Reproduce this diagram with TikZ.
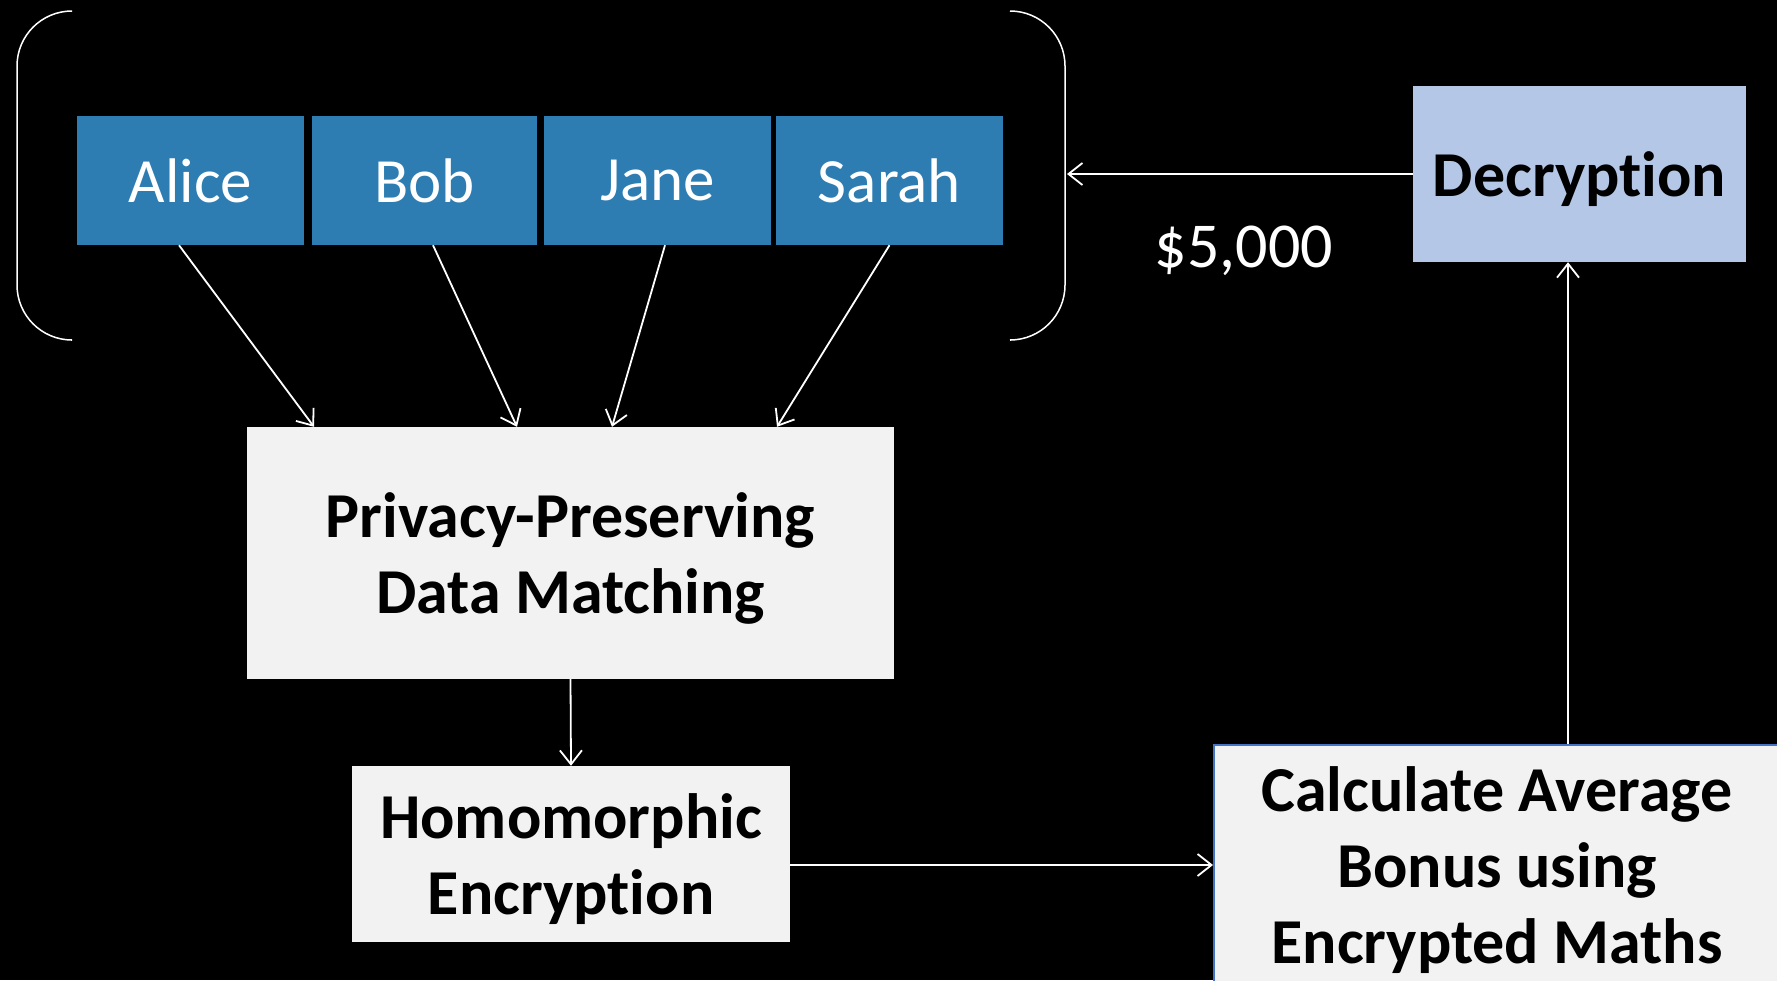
\documentclass[tikz,border=0pt]{standalone}
\usepackage{fontspec}
\setmainfont{Carlito}[RawFeature=-liga]
\usetikzlibrary{arrows.meta}
\definecolor{nameblue}{RGB}{46,125,178}
\definecolor{procgray}{RGB}{242,242,242}
\definecolor{decblue}{RGB}{180,199,231}
\definecolor{calcblue}{RGB}{68,114,196}
\tikzset{
  namebox/.style={fill=nameblue, text=white, minimum width=227pt, minimum height=129pt, inner sep=0pt, font=\fontsize{63}{75}\selectfont},
  procbox/.style={fill=procgray, inner sep=0pt},
  proctext/.style={text=black, inner sep=0pt, align=center, font=\bfseries\fontsize{64}{76}\selectfont, yshift=-5pt},
  conn/.style={draw=white, line width=1.8pt, -{Straight Barb[length=14pt,width=22pt]}},
  brack/.style={draw=white, line width=1.5pt, rounded corners=55pt}
}
\begin{document}
\begin{tikzpicture}[x=1pt,y=-1pt]
\useasboundingbox (0,0) rectangle (1777,980);
\fill[black] (0,0) rectangle (1777,980);
\clip (0,0) rectangle (1777,980);
% bracket
\draw[brack] (71,11) -- (17,11) -- (17,340) -- (71,340);
\draw[brack] (1011,11) -- (1065,11) -- (1065,340) -- (1011,340);
\coordinate (brR) at (1067,175);
% names
\node[namebox] (alice) at (190.5,180.5) {Alice};
\node[namebox, minimum width=225pt] (bob) at (424.5,180.5) {Bob};
\node[namebox] (jane) at (657.5,180.5) {Jane};
\node[namebox] (sarah) at (889.5,180.5) {Sarah};
% process boxes
\node[procbox, minimum width=647pt, minimum height=252pt] (priv) at (570.5,553) {};
\node[proctext] (privT) at (priv.center) {Privacy-Preserving\\Data Matching};
\node[procbox, minimum width=438pt, minimum height=176pt] (homo) at (571,854) {};
\node[proctext] (homoT) at (homo.center) {Homomorphic\\Encryption};
\node[procbox, draw=calcblue, line width=2pt, minimum width=566pt, minimum height=240pt] (calc) at (1497,865) {};
\node[proctext] (calcT) at (calc.center) {Calculate Average\\Bonus using\\Encrypted Maths};
\node[procbox, fill=decblue, minimum width=333pt, minimum height=176pt] (dec) at (1579.5,174) {};
\node[proctext] (decT) at (dec.center) {Decryption};
\node[text=white, font=\fontsize{64}{72}\selectfont, inner sep=0pt] (money) at (1244,251) {\$5,000};
% connectors
\draw[conn] ([xshift=-11.5pt]alice.south) -- ([xshift=-256.5pt]priv.north);
\draw[conn] ([xshift=8.5pt]bob.south) -- ([xshift=-53.5pt]priv.north);
\draw[conn] ([xshift=7.5pt]jane.south) -- ([xshift=41.5pt]priv.north);
\draw[conn] (sarah.south) -- ([xshift=206.5pt]priv.north);
\draw[conn] (priv.south) -- (homo.north);
\draw[conn] (homo.east |- calc.west) -- (calc.west);
\draw[conn] ([xshift=-11.5pt]dec.south |- calc.north) -- ([xshift=-11.5pt]dec.south);
\draw[conn] (dec.west) -- (dec.west -| brR);
\end{tikzpicture}
\end{document}
